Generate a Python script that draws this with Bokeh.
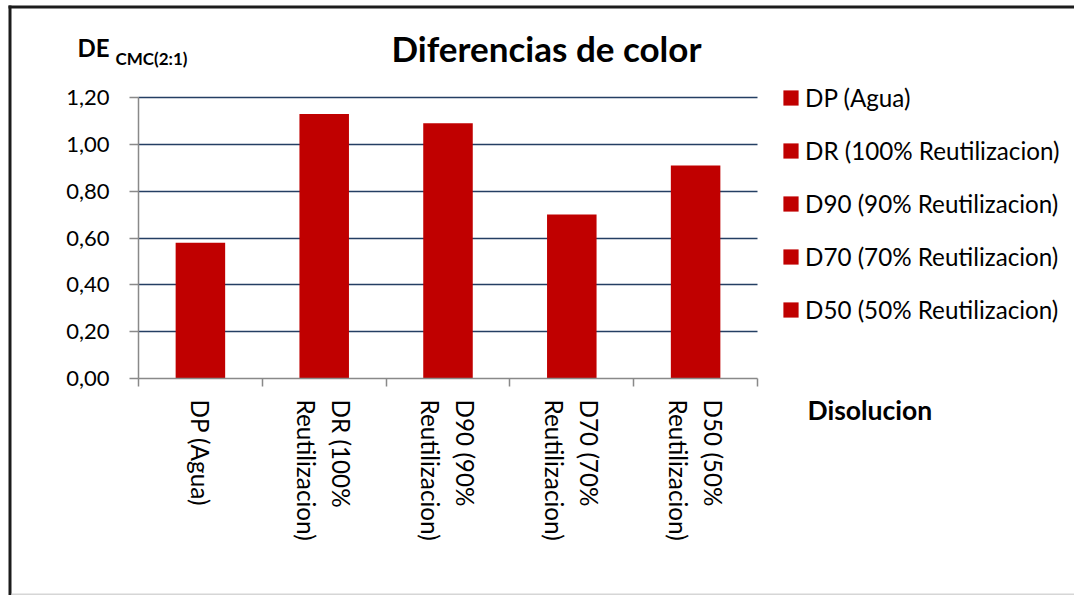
import math

from bokeh.embed import file_html
from bokeh.models import (BoxAnnotation, ColumnDataSource, FixedTicker, Grid, Label, Legend,
                          LegendItem, LinearAxis, Range1d)
from bokeh.plotting import figure
from bokeh.resources import INLINE

# ---- data -----------------------------------------------------------------
categories = ["DP (Agua)", "DR (100% Reutilizacion)", "D90 (90% Reutilizacion)",
              "D70 (70% Reutilizacion)", "D50 (50% Reutilizacion)"]
axis_labels = ["DP (Agua)", "DR (100%\nReutilizacion)", "D90 (90%\nReutilizacion)",
               "D70 (70%\nReutilizacion)", "D50 (50%\nReutilizacion)"]
de_values = [0.58, 1.13, 1.09, 0.70, 0.91]
y_ticks = [0.0, 0.2, 0.4, 0.6, 0.8, 1.0, 1.2]
y_tick_labels = ["0,00", "0,20", "0,40", "0,60", "0,80", "1,00", "1,20"]

title_text = "Diferencias de color"
y_title = "DE"
y_title_sub = "CMC(2:1)"
x_title = "Disolucion"

# ---- layout / style ---------------------------------------------------------
W, H = 1074, 595
PL, PR, PT, PB = 138, 757, 97, 378          # plot-area edges in pixels
N = len(categories)
Y_MAX = 1.2

BAR = "#C00000"
GRID = "#243F63"
AXIS = "#898989"
FONT = "Lato"

# each category occupies one unit on the x axis; bars sit in the middle of it
slot_centers = [i + 0.5 for i in range(N)]
slot_edges = list(range(N + 1))


def px_x(px):
    """pixel column -> x data coordinate"""
    return (px - PL) / (PR - PL) * N


def px_y(py):
    """pixel row -> y data coordinate"""
    return (PB - py) / (PB - PT) * Y_MAX


# the drawing frame spans the whole canvas; axes are pinned at x=0 / y=0
p = figure(width=W, height=H,
           x_range=Range1d(px_x(0), px_x(W)), y_range=Range1d(px_y(H), px_y(0)),
           x_axis_location=None, y_axis_location=None,
           output_backend="svg", toolbar_location=None,
           min_border=0, min_border_left=0, min_border_right=0,
           min_border_top=0, min_border_bottom=0)
p.outline_line_color = None
p.background_fill_color = "white"
p.border_fill_color = "white"

# horizontal grid lines, limited to the plot area
p.ygrid.ticker = FixedTicker(ticks=y_ticks[1:])
p.ygrid.bounds = (0, Y_MAX)
if "cross_bounds" in Grid.properties():
    p.ygrid.cross_bounds = (0, N)
p.ygrid.grid_line_color = GRID
p.ygrid.grid_line_width = 1.6
p.xgrid.visible = False

# bars
src = ColumnDataSource(data=dict(x=slot_centers, cat=categories, de=de_values))
bars = p.vbar(x="x", top="de", width=0.4, source=src,
              fill_color=BAR, line_color=None)

# y axis
y_axis = LinearAxis(ticker=FixedTicker(ticks=y_ticks), fixed_location=0,
                    bounds=(0, Y_MAX),
                    major_label_overrides={t: s for t, s in zip(y_ticks, y_tick_labels)},
                    major_label_text_font=FONT, major_label_text_font_size="22px",
                    major_label_text_color="black", major_label_standoff=20,
                    major_tick_in=0, major_tick_out=9, minor_tick_line_color=None,
                    axis_line_color=AXIS, axis_line_width=1.5,
                    major_tick_line_color=AXIS, major_tick_line_width=1.5)
p.add_layout(y_axis, "left")

# x axis: names at the slot centres, small ticks on the slot boundaries
x_axis = LinearAxis(ticker=FixedTicker(ticks=slot_centers, minor_ticks=slot_edges),
                    fixed_location=0, bounds=(0, N),
                    axis_line_color=AXIS, axis_line_width=1.5,
                    major_tick_line_color=None, major_tick_in=0, major_tick_out=0,
                    minor_tick_line_color=AXIS, minor_tick_line_width=1.5,
                    minor_tick_in=0, minor_tick_out=8,
                    major_label_orientation=-math.pi / 2,
                    major_label_overrides=dict(zip(slot_centers, axis_labels)),
                    major_label_text_font=FONT, major_label_text_font_size="24.3px",
                    major_label_text_align="center",
                    major_label_text_color="black", major_label_standoff=13)
p.add_layout(x_axis, "below")

# legend, one entry per bar
items = [LegendItem(label=c, renderers=[bars], index=i) for i, c in enumerate(categories)]
legend = Legend(items=items, location=(781, 595 - 324),
                glyph_width=19, glyph_height=19, label_height=19,
                label_standoff=5, spacing=24, padding=0, margin=0,
                label_text_font=FONT, label_text_font_size="24.2px",
                label_text_color="black",
                border_line_color=None, background_fill_alpha=0)
p.add_layout(legend)

# titles
p.add_layout(Label(x=px_x(546), y=px_y(47), text=title_text,
                   text_font=FONT, text_font_style="bold", text_font_size="35px",
                   text_align="center", text_baseline="alphabetic", text_color="black"))
p.add_layout(Label(x=px_x(77), y=px_y(47), text=y_title,
                   text_font=FONT, text_font_style="bold", text_font_size="24px",
                   text_align="left", text_baseline="alphabetic", text_color="black"))
p.add_layout(Label(x=px_x(115), y=px_y(58), text=y_title_sub,
                   text_font=FONT, text_font_style="bold", text_font_size="17px",
                   text_align="left", text_baseline="alphabetic", text_color="black"))
p.add_layout(Label(x=px_x(807), y=px_y(409), text=x_title,
                   text_font=FONT, text_font_style="bold", text_font_size="26.5px",
                   text_align="left", text_baseline="alphabetic", text_color="black"))

# chart frame lines
p.add_layout(BoxAnnotation(left=px_x(8), right=px_x(11), top=px_y(5), bottom=px_y(595),
                           fill_color="#1c1c1c", fill_alpha=1, line_alpha=0))
p.add_layout(BoxAnnotation(left=px_x(8), right=px_x(1074), top=px_y(5), bottom=px_y(8),
                           fill_color="#1c1c1c", fill_alpha=1, line_alpha=0))
p.add_layout(BoxAnnotation(left=px_x(11), right=px_x(1074), top=px_y(593), bottom=px_y(595),
                           fill_color="#d6d6d6", fill_alpha=1, line_alpha=0))

open("out.html", "w").write(file_html(p, INLINE))
